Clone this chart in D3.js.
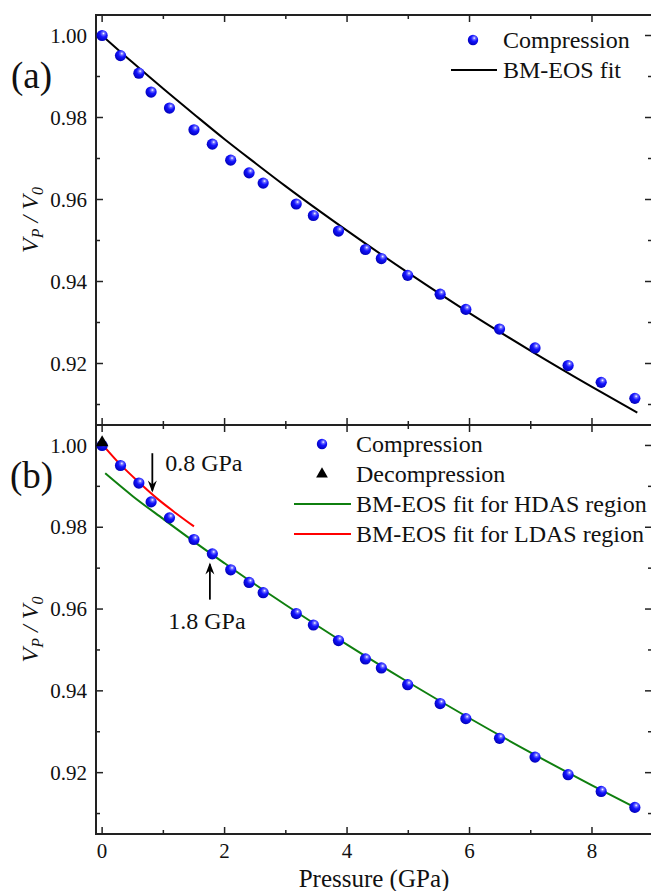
<!DOCTYPE html>
<html>
<head>
<meta charset="utf-8">
<script src="https://cdn.jsdelivr.net/npm/d3@7"></script>
<style>
  body { margin: 0; background: #fff; }
  svg, svg text { font-family: "Liberation Serif", "Times New Roman", "DejaVu Serif", serif; }
</style>
</head>
<body>
<svg id="chart" width="651" height="891" font-family="Liberation Serif, Times New Roman, serif"></svg>
<script>
// V/V0 vs pressure, two stacked panels

// compression data (GPa, V/V0)
const pressure = [0, 0.30, 0.60, 0.80, 1.10, 1.50, 1.80, 2.10, 2.40, 2.63, 3.17, 3.45,
  3.86, 4.30, 4.56, 4.99, 5.52, 5.94, 6.49, 7.07, 7.61, 8.15, 8.70];
const volume = [1.000, 0.9951, 0.9908, 0.9862, 0.9823, 0.9770, 0.9735, 0.9696, 0.9665, 0.9640, 0.9589, 0.9561,
  0.9523, 0.9478, 0.9456, 0.9415, 0.9369, 0.9332, 0.9284, 0.9238, 0.9195, 0.9154, 0.9115];

// decompression point
const decompP = [0];
const decompV = [1.0007];

// BM-EOS fit over the whole range (panel a)
const fitP = [0, 0.5, 1, 1.5, 2, 2.5, 3, 4, 5, 6, 7, 8, 8.74];
const fitV = [1.000, 0.9934, 0.9870, 0.9808, 0.9747, 0.9689, 0.9632, 0.9524, 0.9421, 0.9323, 0.9231, 0.9143, 0.9080];

// HDAS fit (green) and LDAS fit (red), panel b
const hdasP = [0.05, 0.5, 1, 1.5, 2, 2.5, 3, 4, 5, 6, 7, 8, 8.7];
const hdasV = [0.9932, 0.9876, 0.9820, 0.9765, 0.9712, 0.9660, 0.9610, 0.9513, 0.9421, 0.9333, 0.9249, 0.9169, 0.9115];
const ldasP = [0.03, 0.3, 0.6, 0.9, 1.2, 1.5];
const ldasV = [0.9998, 0.9953, 0.9910, 0.9870, 0.9835, 0.9802];

const xTicks = [0, 2, 4, 6, 8];
const xMinor = [1, 3, 5, 7];
const yTicks = [0.92, 0.94, 0.96, 0.98, 1.00];
const yMinor = [0.91, 0.93, 0.95, 0.97, 0.99];

const FONT = "Liberation Serif, Times New Roman, serif";
const svg = d3.select("#chart");
const left = 96, right = 652;

const x = d3.scaleLinear().domain([-0.1, 8.98]).range([left, right]);
const yA = d3.scaleLinear().domain([0.905, 1.005]).range([425, 15]);
const yB = d3.scaleLinear().domain([0.905, 1.005]).range([834, 425]);

// sphere marker gradient
const defs = svg.append("defs");
const grad = defs.append("radialGradient").attr("id", "ball")
  .attr("cx", "62%").attr("cy", "32%").attr("r", "70%");
grad.append("stop").attr("offset", "0%").attr("stop-color", "#ffffff");
grad.append("stop").attr("offset", "18%").attr("stop-color", "#7070ff");
grad.append("stop").attr("offset", "45%").attr("stop-color", "#1414ff");
grad.append("stop").attr("offset", "100%").attr("stop-color", "#0000b8");

const toPts = (ps, vs) => ps.map((p, i) => [p, vs[i]]);

function label(sel, size) {
  return sel.attr("font-family", FONT).attr("font-size", size).attr("fill", "#111");
}

function drawFrame(y, bottomLabels) {
  const g = svg.append("g");
  const [y0, y1] = y.range(); // bottom, top
  const axisColor = "#222";

  // frame lines
  g.append("line").attr("x1", left).attr("x2", left).attr("y1", y0).attr("y2", y1)
    .attr("stroke", axisColor).attr("stroke-width", 2);
  g.append("line").attr("x1", right).attr("x2", right).attr("y1", y0).attr("y2", y1)
    .attr("stroke", axisColor).attr("stroke-width", 2);
  g.append("line").attr("x1", left - 1).attr("x2", right).attr("y1", y0).attr("y2", y0)
    .attr("stroke", axisColor).attr("stroke-width", 2);
  g.append("line").attr("x1", left - 1).attr("x2", right).attr("y1", y1).attr("y2", y1)
    .attr("stroke", axisColor).attr("stroke-width", 2);

  // x ticks, inward on bottom and top
  const xt = xTicks.map(v => ({ v, len: 7 })).concat(xMinor.map(v => ({ v, len: 4 })));
  g.selectAll(".xb").data(xt).join("line")
    .attr("x1", d => x(d.v)).attr("x2", d => x(d.v))
    .attr("y1", y0).attr("y2", d => y0 - d.len)
    .attr("stroke", axisColor).attr("stroke-width", 1.5);
  g.selectAll(".xt").data(xt).join("line")
    .attr("x1", d => x(d.v)).attr("x2", d => x(d.v))
    .attr("y1", y1).attr("y2", d => y1 + d.len)
    .attr("stroke", axisColor).attr("stroke-width", 1.5);

  // y ticks, inward on left and right
  const yt = yTicks.map(v => ({ v, len: 7 })).concat(yMinor.map(v => ({ v, len: 4 })));
  g.selectAll(".yl").data(yt).join("line")
    .attr("x1", left).attr("x2", d => left + d.len)
    .attr("y1", d => y(d.v)).attr("y2", d => y(d.v))
    .attr("stroke", axisColor).attr("stroke-width", 1.5);
  g.selectAll(".yr").data(yt).join("line")
    .attr("x1", right).attr("x2", d => right - d.len)
    .attr("y1", d => y(d.v)).attr("y2", d => y(d.v))
    .attr("stroke", axisColor).attr("stroke-width", 1.5);

  label(g.selectAll(".ylab").data(yTicks).join("text"), 21)
    .attr("x", left - 9).attr("y", d => y(d))
    .attr("dy", "0.34em").attr("text-anchor", "end")
    .text(d3.format(".2f"));

  if (bottomLabels) {
    label(g.selectAll(".xlab").data(xTicks).join("text"), 21)
      .attr("x", d => x(d)).attr("y", y0 + 24)
      .attr("text-anchor", "middle")
      .text(d => d);
  }

  // y axis title V_P / V_0
  const cy = (y0 + y1) / 2;
  const t = label(g.append("text"), 24)
    .attr("transform", `translate(38,${cy}) rotate(-90)`)
    .attr("text-anchor", "middle")
    .attr("font-style", "italic");
  t.append("tspan").text("V");
  t.append("tspan").attr("font-size", 16).attr("dy", 5).text("P");
  t.append("tspan").attr("dy", -5).text(" / V");
  t.append("tspan").attr("font-size", 16).attr("dy", 5).text("0");
  return g;
}

function drawLine(y, pts, color) {
  svg.append("path")
    .datum(pts)
    .attr("fill", "none").attr("stroke", color).attr("stroke-width", 2)
    .attr("d", d3.line().x(d => x(d[0])).y(d => y(d[1])).curve(d3.curveMonotoneX));
}

function drawBalls(y, pts) {
  svg.append("g").selectAll("circle").data(pts).join("circle")
    .attr("cx", d => x(d[0])).attr("cy", d => y(d[1]))
    .attr("r", 5.6).attr("fill", "url(#ball)");
}

const comp = toPts(pressure, volume);

// ---- panel (a)
drawFrame(yA, false);
drawLine(yA, toPts(fitP, fitV), "#000");
drawBalls(yA, comp);

label(svg.append("text"), 37).attr("x", 11).attr("y", 88).text("(a)");

// legend (a)
const legA = svg.append("g");
legA.append("circle").attr("cx", 473).attr("cy", 40).attr("r", 5.2).attr("fill", "url(#ball)");
label(legA.append("text"), 24).attr("x", 503).attr("y", 40).attr("dy", "0.34em").text("Compression");
legA.append("line").attr("x1", 451).attr("x2", 497).attr("y1", 70).attr("y2", 70)
  .attr("stroke", "#000").attr("stroke-width", 2);
label(legA.append("text"), 24).attr("x", 503).attr("y", 70).attr("dy", "0.34em").text("BM-EOS fit");

// ---- panel (b)
drawFrame(yB, true);
drawLine(yB, toPts(hdasP, hdasV), "#0f7f0f");
drawLine(yB, toPts(ldasP, ldasV), "#ff0000");
drawBalls(yB, comp);

const tri = d3.symbol().type(d3.symbolTriangle).size(70);
svg.append("g").selectAll("path").data(toPts(decompP, decompV)).join("path")
  .attr("transform", d => `translate(${x(d[0])},${yB(d[1])})`)
  .attr("d", tri).attr("fill", "#000");

label(svg.append("text"), 37).attr("x", 10).attr("y", 488).text("(b)");

// arrows with pressure labels
const arrowNotes = [
  { label: "0.8 GPa", p: 0.82, from: 0.9981, to: 0.9885, tx: 1.03, ty: 0.9938 },
  { label: "1.8 GPa", p: 1.76, from: 0.9623, to: 0.9714, tx: 1.08, ty: 0.9552 }
];
arrowNotes.forEach(a => {
  const ax = x(a.p), ya = yB(a.from), yb = yB(a.to);
  const dir = yb > ya ? 1 : -1;
  svg.append("line").attr("x1", ax).attr("x2", ax).attr("y1", ya).attr("y2", yb - dir * 2)
    .attr("stroke", "#000").attr("stroke-width", 1.8);
  svg.append("path")
    .attr("d", `M${ax},${yb} L${ax - 4.5},${yb - dir * 12} L${ax},${yb - dir * 8} L${ax + 4.5},${yb - dir * 12} Z`)
    .attr("fill", "#000");
  label(svg.append("text"), 24).attr("x", x(a.tx)).attr("y", yB(a.ty)).text(a.label);
});

// legend (b)
const legB = svg.append("g");
legB.append("circle").attr("cx", 322).attr("cy", 444).attr("r", 5.2).attr("fill", "url(#ball)");
label(legB.append("text"), 24).attr("x", 356).attr("y", 444).attr("dy", "0.34em").text("Compression");
legB.append("path").attr("transform", "translate(322,474)")
  .attr("d", d3.symbol().type(d3.symbolTriangle).size(60)).attr("fill", "#000");
label(legB.append("text"), 24).attr("x", 356).attr("y", 474).attr("dy", "0.34em").text("Decompression");
legB.append("line").attr("x1", 294).attr("x2", 351).attr("y1", 504).attr("y2", 504)
  .attr("stroke", "#0f7f0f").attr("stroke-width", 2);
label(legB.append("text"), 24).attr("x", 356).attr("y", 504).attr("dy", "0.34em").text("BM-EOS fit for HDAS region");
legB.append("line").attr("x1", 294).attr("x2", 351).attr("y1", 534).attr("y2", 534)
  .attr("stroke", "#ff0000").attr("stroke-width", 2);
label(legB.append("text"), 24).attr("x", 356).attr("y", 534).attr("dy", "0.34em").text("BM-EOS fit for LDAS region");

// x axis title
label(svg.append("text"), 25).attr("x", (left + right) / 2).attr("y", 887)
  .attr("text-anchor", "middle").text("Pressure (GPa)");
</script>
</body>
</html>
